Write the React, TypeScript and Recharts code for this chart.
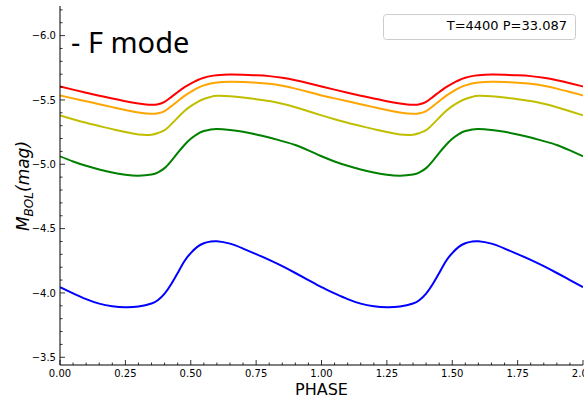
import { LineChart, Line, XAxis, YAxis } from 'recharts';

// one pulsation cycle (plotted twice, as in the original figure)
const phase = [0, 0.05, 0.1, 0.15, 0.2, 0.25, 0.3, 0.35, 0.375, 0.4, 0.425, 0.45, 0.475, 0.5, 0.525, 0.55, 0.575, 0.6, 0.65, 0.7, 0.75, 0.8, 0.85, 0.9, 0.95];

const redMag = [-5.605, -5.58, -5.556, -5.533, -5.511, -5.49, -5.473, -5.462, -5.466, -5.485, -5.522, -5.56, -5.597, -5.627, -5.653, -5.672, -5.685, -5.692, -5.697, -5.695, -5.691, -5.685, -5.672, -5.653, -5.63];
const orangeMag = [-5.535, -5.512, -5.49, -5.467, -5.444, -5.422, -5.403, -5.392, -5.396, -5.413, -5.45, -5.49, -5.53, -5.563, -5.592, -5.613, -5.628, -5.636, -5.641, -5.639, -5.634, -5.626, -5.61, -5.588, -5.562];
const yellowMag = [-5.38, -5.35, -5.322, -5.297, -5.273, -5.25, -5.232, -5.23, -5.243, -5.265, -5.31, -5.362, -5.412, -5.452, -5.483, -5.507, -5.523, -5.532, -5.529, -5.519, -5.506, -5.491, -5.47, -5.443, -5.412];
const greenMag = [-5.062, -5.022, -4.988, -4.96, -4.936, -4.919, -4.911, -4.92, -4.937, -4.97, -5.025, -5.088, -5.148, -5.198, -5.235, -5.258, -5.27, -5.275, -5.267, -5.252, -5.232, -5.208, -5.18, -5.15, -5.108];
const blueMag = [-4.045, -3.997, -3.952, -3.917, -3.897, -3.889, -3.895, -3.918, -3.945, -3.995, -4.068, -4.155, -4.245, -4.31, -4.358, -4.386, -4.399, -4.402, -4.383, -4.345, -4.302, -4.257, -4.208, -4.155, -4.1];

const xMajorTicks = [0, 0.25, 0.5, 0.75, 1, 1.25, 1.5, 1.75, 2];
const xMinorTicks = [0.05, 0.1, 0.15, 0.2, 0.3, 0.35, 0.4, 0.45, 0.55, 0.6, 0.65, 0.7, 0.8, 0.85, 0.9, 0.95,
  1.05, 1.1, 1.15, 1.2, 1.3, 1.35, 1.4, 1.45, 1.55, 1.6, 1.65, 1.7, 1.8, 1.85, 1.9, 1.95];
const yMajorTicks = [-6, -5.5, -5, -4.5, -4, -3.5];
const yMinorTicks = [-6.2, -6.1, -5.9, -5.8, -5.7, -5.6, -5.4, -5.3, -5.2, -5.1, -4.9, -4.8, -4.7, -4.6,
  -4.4, -4.3, -4.2, -4.1, -3.9, -3.8, -3.7, -3.6];

const series = [
  { key: 'red', values: redMag, color: '#ff0000' },
  { key: 'orange', values: orangeMag, color: '#ffa500' },
  { key: 'yellow', values: yellowMag, color: '#bfbf00' },
  { key: 'green', values: greenMag, color: '#008000' },
  { key: 'blue', values: blueMag, color: '#0000ff' },
];

const data: any[] = [];
[0, 1].forEach(cycle => {
  phase.forEach((p, i) => {
    const row: any = { phase: p + cycle };
    series.forEach(s => { row[s.key] = s.values[i]; });
    data.push(row);
  });
});
const lastRow: any = { phase: 2 };
series.forEach(s => { lastRow[s.key] = s.values[0]; });
data.push(lastRow);

const W = 584;
const H = 398;
const PLOT = { left: 60, right: 583, top: 6, bottom: 365 };
const FONT = '"DejaVu Sans", sans-serif';
const MAJOR = 5;
const MINOR = 2.5;

const isMajor = (list: number[], v: number) => list.some(m => Math.abs(m - v) < 1e-6);
const fmtY = (v: number) => v.toFixed(1).replace('-', '\u2212');

const BottomTick = (props: any) => {
  const { x, payload } = props;
  const major = isMajor(xMajorTicks, payload.value);
  return (
    <g>
      <line x1={x} x2={x} y1={PLOT.bottom} y2={PLOT.bottom - (major ? MAJOR : MINOR)} stroke="#000" strokeWidth={0.8} />
      {major && (
        <text x={x} y={377} textAnchor="middle" fontSize={10} fontFamily={FONT} fill="#000">
          {payload.value.toFixed(2)}
        </text>
      )}
    </g>
  );
};

const TopTick = (props: any) => {
  const { x, payload } = props;
  const major = isMajor(xMajorTicks, payload.value);
  return <line x1={x} x2={x} y1={PLOT.top} y2={PLOT.top + (major ? MAJOR : MINOR)} stroke="#000" strokeWidth={0.8} />;
};

const LeftTick = (props: any) => {
  const { y, payload } = props;
  const major = isMajor(yMajorTicks, payload.value);
  return (
    <g>
      <line x1={PLOT.left} x2={PLOT.left + (major ? MAJOR : MINOR)} y1={y} y2={y} stroke="#000" strokeWidth={0.8} />
      {major && (
        <text x={56} y={y + 3.6} textAnchor="end" fontSize={10} fontFamily={FONT} fill="#000">
          {fmtY(payload.value)}
        </text>
      )}
    </g>
  );
};

const RightTick = (props: any) => {
  const { y, payload } = props;
  const major = isMajor(yMajorTicks, payload.value);
  return <line x1={PLOT.right} x2={PLOT.right - (major ? MAJOR : MINOR)} y1={y} y2={y} stroke="#000" strokeWidth={0.8} />;
};

const YLabel = () => (
  <text
    transform="translate(29, 186) rotate(-90)"
    textAnchor="middle"
    fontSize={17}
    fontFamily={FONT}
    fontStyle="italic"
    fill="#000"
  >
    M<tspan fontSize={12} dy={4}>BOL</tspan><tspan dy={-4}>(mag)</tspan>
  </text>
);

const XLabel = () => (
  <text x={(PLOT.left + PLOT.right) / 2} y={395} textAnchor="middle" fontSize={16} fontFamily={FONT} fill="#000">
    PHASE
  </text>
);

export default function App() {
  const xTicks = [...xMajorTicks, ...xMinorTicks];
  const yTicks = [...yMajorTicks, ...yMinorTicks];
  const yDomain = [-6.23, -3.44];

  return (
    <div style={{ position: 'absolute', left: 0, top: 0, width: W, height: H, background: '#fff' }}>
      <LineChart
        width={W}
        height={H}
        data={data}
        margin={{ top: PLOT.top, right: W - PLOT.right, bottom: 0, left: 0 }}
      >
        <XAxis
          dataKey="phase"
          type="number"
          domain={[0, 2]}
          ticks={xTicks}
          interval={0}
          allowDataOverflow
          height={H - PLOT.bottom}
          tickLine={false}
          axisLine={{ stroke: '#000', strokeWidth: 1 }}
          tick={<BottomTick />}
          label={{ content: () => <XLabel /> }}
        />
        <XAxis
          xAxisId="top"
          orientation="top"
          dataKey="phase"
          type="number"
          domain={[0, 2]}
          ticks={xTicks}
          interval={0}
          allowDataOverflow
          height={0}
          tickLine={false}
          axisLine={{ stroke: '#000', strokeWidth: 1 }}
          tick={<TopTick />}
        />
        <YAxis
          type="number"
          domain={yDomain}
          reversed
          ticks={yTicks}
          interval={0}
          allowDataOverflow
          width={PLOT.left}
          tickLine={false}
          axisLine={{ stroke: '#000', strokeWidth: 1 }}
          tick={<LeftTick />}
          label={{ content: () => <YLabel /> }}
        />
        <YAxis
          yAxisId="right"
          orientation="right"
          type="number"
          domain={yDomain}
          reversed
          ticks={yTicks}
          interval={0}
          allowDataOverflow
          width={0}
          tickLine={false}
          axisLine={{ stroke: '#000', strokeWidth: 1 }}
          tick={<RightTick />}
        />
        {series.map(s => (
          <Line
            key={s.key}
            type="natural"
            dataKey={s.key}
            stroke={s.color}
            strokeWidth={2}
            dot={false}
            activeDot={false}
            isAnimationActive={false}
          />
        ))}
      </LineChart>
      <svg width={W} height={H} style={{ position: 'absolute', left: 0, top: 0, pointerEvents: 'none' }}>
        <text x={71} y={53} fontSize={29} fontFamily='"Noto Sans", sans-serif' fill="#000">- F mode</text>
        <rect x={383.5} y={14.5} width={192} height={25} rx={3} fill="#fff" fillOpacity={0.8} stroke="#cccccc" />
        <text x={567} y={30} textAnchor="end" fontSize={13} fontFamily={FONT} fill="#000">T=4400 P=33.087</text>
      </svg>
    </div>
  );
}
